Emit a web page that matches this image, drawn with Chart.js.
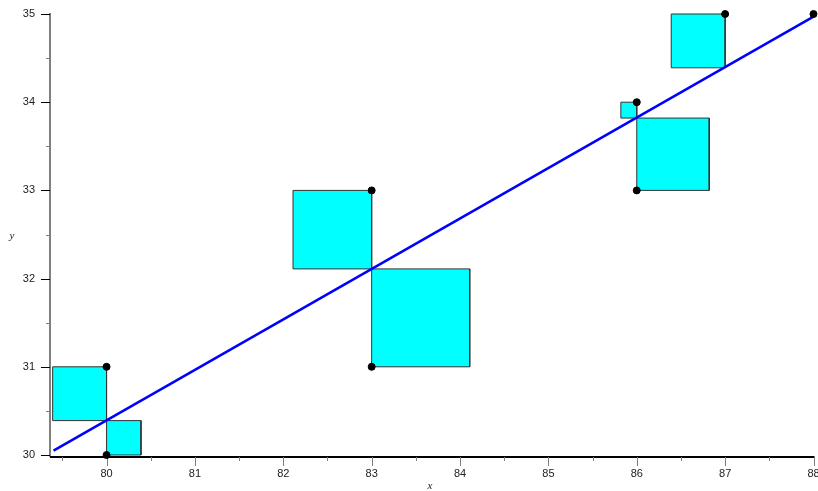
<!DOCTYPE html>
<html>
<head>
<meta charset="utf-8">
<script src="https://cdn.jsdelivr.net/npm/chart.js@4.4.1/dist/chart.umd.min.js"></script>
<style>
  html, body { margin: 0; padding: 0; background: #fff; }
  #wrap { width: 818px; height: 491px; }
</style>
</head>
<body>
<div id="wrap"><canvas id="myChart"></canvas></div>
<script>
// data points
const xs = [80, 80, 83, 83, 86, 86, 87, 88];
const ys = [31, 30, 33, 31, 34, 33, 35, 35];
// fitted line value at each x
const fitted = [30.39, 30.39, 32.11, 32.11, 33.82, 33.82, 34.39, 34.97];
// regression line ends
const lineX = [79.4, 88];
const lineY = [30.05, 34.97];
// axis ticks
const xTicks = [80, 81, 82, 83, 84, 85, 86, 87, 88];
const yTicks = [30, 31, 32, 33, 34, 35];

const points = xs.map((x, i) => ({ x: x, y: ys[i] }));
const linePts = lineX.map((x, i) => ({ x: x, y: lineY[i] }));

// one residual square per point
const squares = xs.map((x, i) => {
    const r = ys[i] - fitted[i];
    const x2 = x - r;
    return {
        type: 'line',
        data: [
            { x: x, y: fitted[i] },
            { x: x2, y: fitted[i] },
            { x: x2, y: ys[i] },
            { x: x, y: ys[i] },
            { x: x, y: fitted[i] }
        ],
        showLine: true,
        borderColor: '#333',
        borderWidth: 1,
        backgroundColor: '#00ffff',
        fill: 'shape',
        pointRadius: 0,
        tension: 0,
        clip: false
    };
});

const axesPlugin = {
    id: 'mapleAxes',
    beforeDatasetsDraw(chart) {
        const ctx = chart.ctx;
        const sx = chart.scales.x;
        const sy = chart.scales.y;
        const left = sx.getPixelForValue(sx.min);
        const right = sx.getPixelForValue(sx.max);
        const bottom = sy.getPixelForValue(sy.min);
        const top = sy.getPixelForValue(sy.max);
        const axisY = bottom + 2;
        ctx.save();
        // y axis
        ctx.strokeStyle = '#808080';
        ctx.lineWidth = 2;
        ctx.beginPath();
        ctx.moveTo(left, top - 1);
        ctx.lineTo(left, axisY);
        ctx.stroke();
        ctx.lineWidth = 1;
        ctx.fillStyle = '#222';
        ctx.font = '11px "Liberation Sans", Arial, sans-serif';
        ctx.textAlign = 'right';
        ctx.textBaseline = 'middle';
        for (let v = sy.min; v <= sy.max + 0.001; v += 0.5) {
            const py = Math.round(sy.getPixelForValue(v)) + 0.5;
            const major = Math.abs(v - Math.round(v)) < 0.01;
            ctx.strokeStyle = major ? '#000' : '#808080';
            ctx.beginPath();
            ctx.moveTo(left - (major ? 9 : 4), py);
            ctx.lineTo(left, py);
            ctx.stroke();
        }
        yTicks.forEach(v => {
            ctx.fillText(String(v), 35, sy.getPixelForValue(v));
        });
        // x axis
        ctx.strokeStyle = '#000';
        ctx.lineWidth = 2;
        ctx.beginPath();
        ctx.moveTo(left, axisY);
        ctx.lineTo(right + 1, axisY);
        ctx.stroke();
        ctx.lineWidth = 1;
        ctx.strokeStyle = '#808080';
        for (let v = 79.5; v <= sx.max + 0.001; v += 0.5) {
            const px = Math.round(sx.getPixelForValue(v)) + 0.5;
            const major = Math.abs(v - Math.round(v)) < 0.01;
            ctx.beginPath();
            ctx.moveTo(px, axisY);
            ctx.lineTo(px, axisY + (major ? 9 : 4));
            ctx.stroke();
        }
        ctx.textAlign = 'center';
        ctx.textBaseline = 'middle';
        xTicks.forEach(v => {
            ctx.fillText(String(v), sx.getPixelForValue(v), 474);
        });
        // axis names
        ctx.font = 'italic 11px "Liberation Serif", "Times New Roman", serif';
        ctx.fillText('x', 430, 486);
        ctx.fillText('y', 12, 236);
        ctx.restore();
    }
};

const datasets = [
    {
        type: 'scatter',
        data: points,
        backgroundColor: '#000',
        borderColor: '#000',
        pointRadius: 3.5,
        pointHoverRadius: 3.5,
        clip: false
    },
    {
        type: 'line',
        data: linePts,
        borderColor: '#0000ff',
        borderWidth: 2.5,
        pointRadius: 0,
        fill: false,
        tension: 0,
        clip: false
    }
].concat(squares);

new Chart("myChart", {
    type: 'scatter',
    data: { datasets: datasets },
    options: {
        responsive: true,
        maintainAspectRatio: false,
        animation: false,
        layout: { padding: { left: 50, right: 4, top: 14, bottom: 36 } },
        scales: {
            x: { type: 'linear', min: 79.36, max: 88, display: false },
            y: { type: 'linear', min: 30, max: 35, display: false }
        },
        plugins: {
            legend: { display: false },
            tooltip: { enabled: false }
        }
    },
    plugins: [axesPlugin]
});
</script>
</body>
</html>
